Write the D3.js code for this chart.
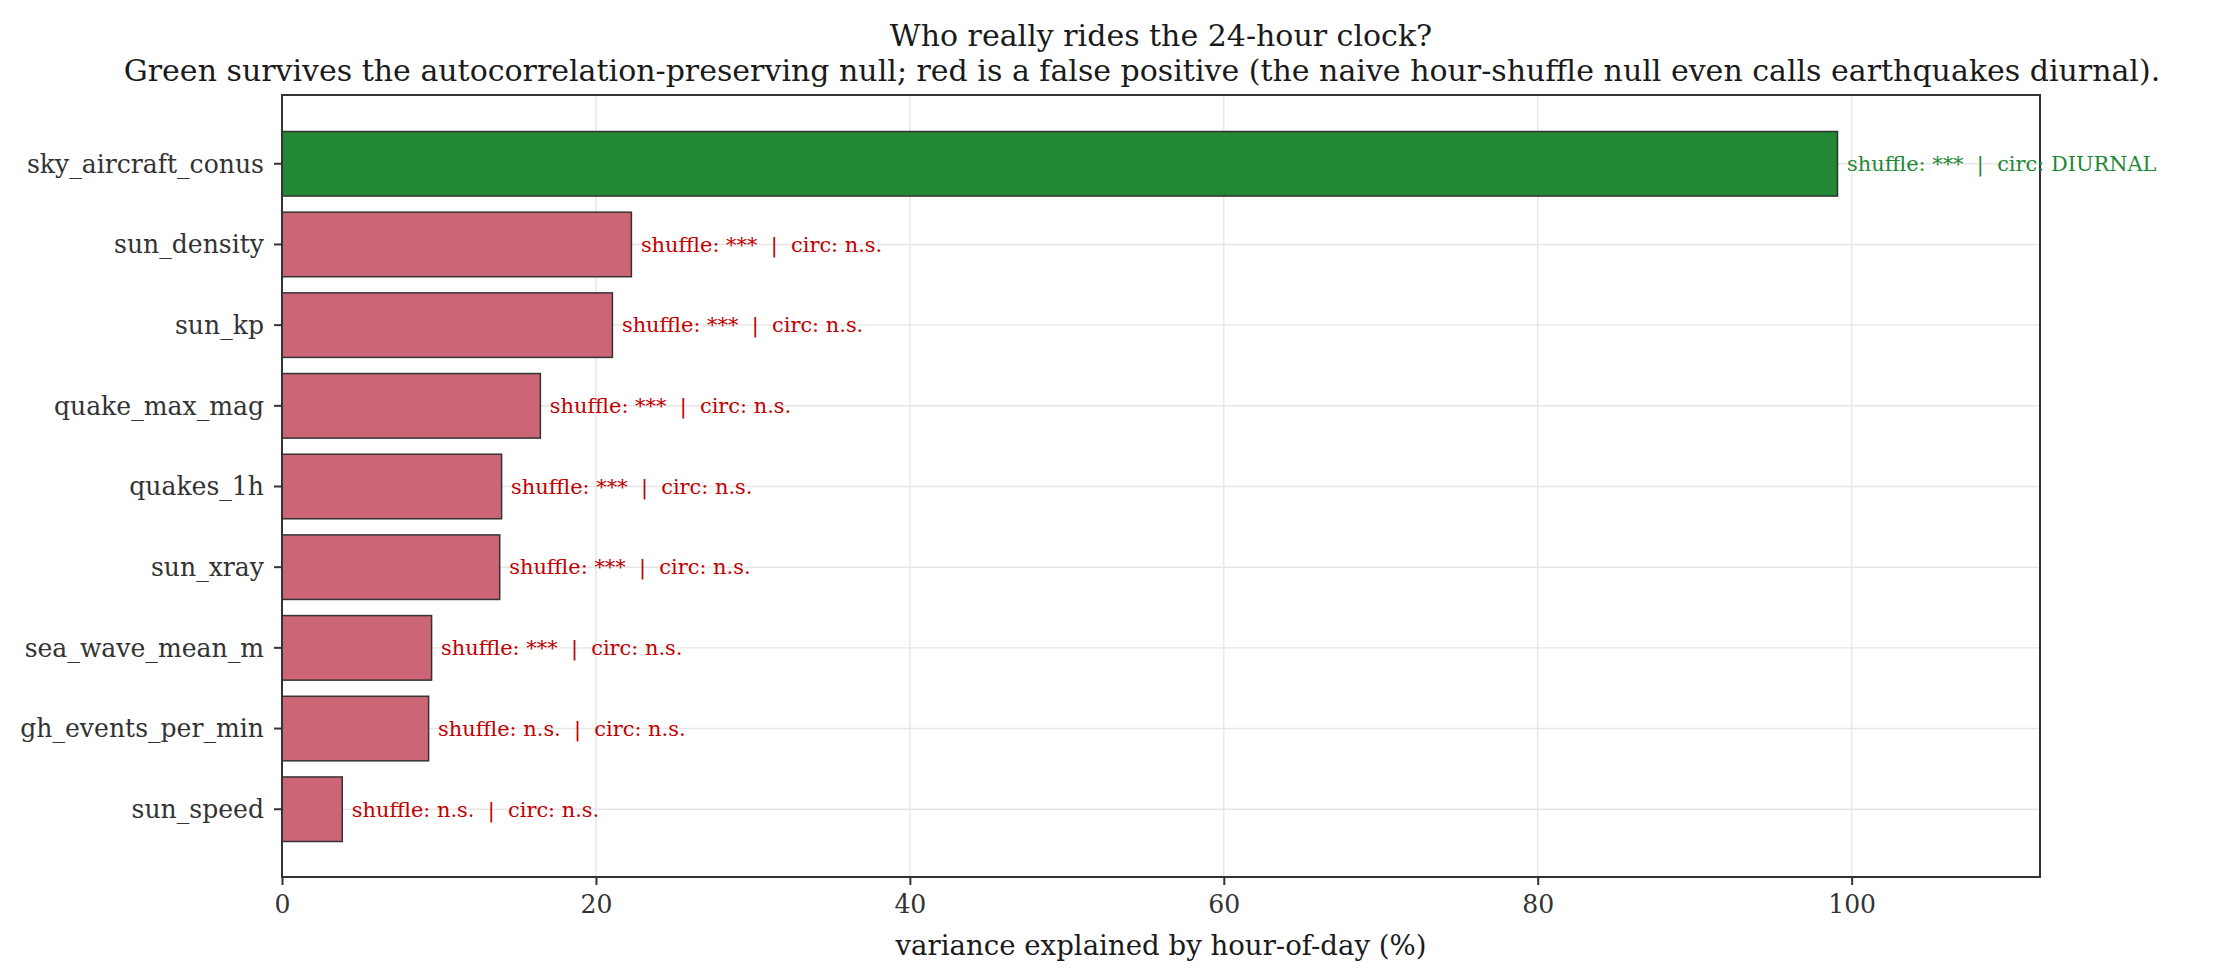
<!DOCTYPE html>
<html>
<head>
<meta charset="utf-8">
<script src="https://cdn.jsdelivr.net/npm/d3@7"></script>
<style>
  body { margin: 0; background: #fff; }
  text { font-family: "DejaVu Serif", serif; white-space: pre; }
</style>
</head>
<body>
<script>
// chart data
const categories = [
  "sky_aircraft_conus", "sun_density", "sun_kp", "quake_max_mag", "quakes_1h",
  "sun_xray", "sea_wave_mean_m", "gh_events_per_min", "sun_speed"
];
const values = [99.1, 22.26, 21.05, 16.46, 13.99, 13.87, 9.53, 9.34, 3.84];
const shuffleSig = ["***", "***", "***", "***", "***", "***", "***", "n.s.", "n.s."];
const circSig = ["DIURNAL", "n.s.", "n.s.", "n.s.", "n.s.", "n.s.", "n.s.", "n.s.", "n.s."];
const xTicks = [0, 20, 40, 60, 80, 100];

const titleLines = [
  "Who really rides the 24-hour clock?",
  "Green survives the autocorrelation-preserving null; red is a false positive (the naive hour-shuffle null even calls earthquakes diurnal)."
];
const xLabel = "variance explained by hour-of-day (%)";

const width = 2219;
const height = 980;
const margin = { top: 95, right: 179, bottom: 103, left: 282 };

const rows = categories.map((c, i) => ({
  name: c,
  value: values[i],
  shuffle: shuffleSig[i],
  circ: circSig[i],
  ok: circSig[i] === "DIURNAL"
}));

const svg = d3.select("body")
  .append("svg")
  .attr("width", width)
  .attr("height", height)
  .attr("viewBox", `0 0 ${width} ${height}`);

const x = d3.scaleLinear()
  .domain([0, 112])
  .range([margin.left, width - margin.right]);

// matplotlib barh: rows at 0..n-1, 5% margins, inverted
const n = categories.length;
const pad = (n - 1 + 0.8) * 0.05;
const y = d3.scaleLinear()
  .domain([-0.4 - pad, n - 1 + 0.4 + pad])
  .range([margin.top + 1, height - margin.bottom]);
const barH = y(0.8) - y(0);

// grid
const grid = svg.append("g")
  .attr("stroke", "#e6e6e6")
  .attr("stroke-width", 1.4);

grid.selectAll("line.vx")
  .data(xTicks.slice(1))
  .join("line")
  .attr("x1", (d) => x(d)).attr("x2", (d) => x(d))
  .attr("y1", margin.top).attr("y2", height - margin.bottom);

grid.selectAll("line.hy")
  .data(rows)
  .join("line")
  .attr("x1", margin.left).attr("x2", width - margin.right)
  .attr("y1", (d, i) => y(i)).attr("y2", (d, i) => y(i));

// bars
svg.append("g")
  .selectAll("rect")
  .data(rows)
  .join("rect")
  .attr("x", x(0))
  .attr("y", (d, i) => y(i) - barH / 2)
  .attr("width", (d) => x(d.value) - x(0))
  .attr("height", barH)
  .attr("fill", (d) => (d.ok ? "#228833" : "#CC6677"))
  .attr("stroke", "#333333")
  .attr("stroke-width", 1.5);

// spines
svg.append("rect")
  .attr("x", margin.left)
  .attr("y", margin.top)
  .attr("width", width - margin.left - margin.right)
  .attr("height", height - margin.top - margin.bottom)
  .attr("fill", "none")
  .attr("stroke", "#333333")
  .attr("stroke-width", 2);

// bar annotations
svg.append("g")
  .selectAll("text")
  .data(rows)
  .join("text")
  .attr("x", (d) => x(d.value) + 9.5)
  .attr("y", (d, i) => y(i))
  .attr("dy", "0.35em")
  .attr("font-size", 20.9)
  .attr("fill", (d) => (d.ok ? "#228833" : "#c00000"))
  .text((d) => `shuffle: ${d.shuffle}  |  circ: ${d.circ}`);

// y axis
const yAxis = svg.append("g");
yAxis.selectAll("line")
  .data(rows)
  .join("line")
  .attr("x1", margin.left - 8).attr("x2", margin.left)
  .attr("y1", (d, i) => y(i)).attr("y2", (d, i) => y(i))
  .attr("stroke", "#333333")
  .attr("stroke-width", 2);
yAxis.selectAll("text")
  .data(rows)
  .join("text")
  .attr("x", margin.left - 18)
  .attr("y", (d, i) => y(i))
  .attr("dy", "0.35em")
  .attr("text-anchor", "end")
  .attr("font-size", 25.1)
  .attr("fill", "#333333")
  .text((d) => d.name);

// x axis
const xAxis = svg.append("g")
  .attr("transform", `translate(0,${height - margin.bottom})`)
  .call(d3.axisBottom(x).tickValues(xTicks).tickSize(8).tickPadding(10).tickFormat(d3.format("d")));
xAxis.select(".domain").remove();
xAxis.selectAll("line").attr("stroke", "#333333").attr("stroke-width", 2);
xAxis.selectAll("text")
  .attr("font-size", 25.1)
  .attr("font-family", "DejaVu Serif, serif")
  .attr("fill", "#333333");

svg.append("text")
  .attr("x", (margin.left + width - margin.right) / 2)
  .attr("y", 955)
  .attr("text-anchor", "middle")
  .attr("font-size", 27.6)
  .attr("fill", "#1a1a1a")
  .text(xLabel);

// title (the two lines sit slightly off each other in the reference)
const titleCx = [1161, 1142];
svg.append("g")
  .selectAll("text")
  .data(titleLines)
  .join("text")
  .attr("x", (d, i) => titleCx[i])
  .attr("y", (d, i) => 46 + i * 35)
  .attr("text-anchor", "middle")
  .attr("font-size", 30)
  .attr("fill", "#1a1a1a")
  .text((d) => d);
</script>
</body>
</html>
